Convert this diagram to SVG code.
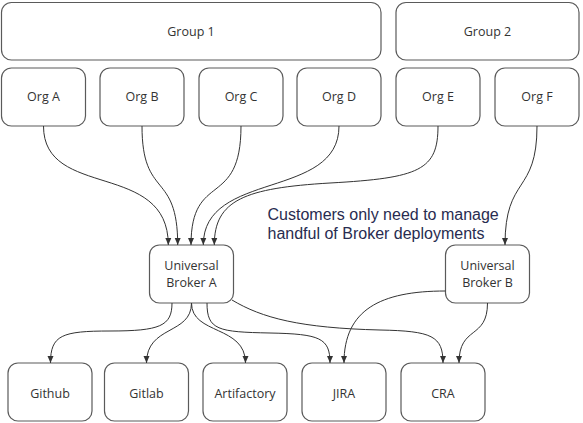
<svg xmlns="http://www.w3.org/2000/svg" width="583" height="423" viewBox="0 0 583 423">
<style>
.box{fill:#fff;stroke:#5a5a5a;stroke-width:1.2}
.lbl{font-family:"Open Sans","Noto Sans",sans-serif;font-size:12.5px;fill:#333;text-anchor:middle}
.note{font-family:"Liberation Sans",Arial,sans-serif;font-size:16px;fill:#282c50}
.con{fill:none;stroke:#333;stroke-width:1;marker-end:url(#ah)}
</style>
<defs>
<marker id="ah" viewBox="0 0 8 8" refX="8" refY="4" markerWidth="7" markerHeight="7" orient="auto" markerUnits="userSpaceOnUse">
<path d="M0,0.6 L8,4 L0,7.4 z" fill="#333"/>
</marker>
</defs>
<rect width="583" height="423" fill="#fff"/>
<g id="group1"><rect class="box" x="1.5" y="2.5" width="379.5" height="57.5" rx="10"/><text class="lbl" x="191" y="35.5">Group 1</text></g>
<g id="group2"><rect class="box" x="396" y="2.5" width="183" height="57.5" rx="10"/><text class="lbl" x="487.5" y="35.5">Group 2</text></g>
<g id="orgA"><rect class="box" x="1.5" y="68" width="84" height="58" rx="10"/><text class="lbl" x="43.5" y="101.3">Org A</text></g>
<g id="orgB"><rect class="box" x="100" y="68" width="84" height="58" rx="10"/><text class="lbl" x="142" y="101.3">Org B</text></g>
<g id="orgC"><rect class="box" x="199" y="68" width="84" height="58" rx="10"/><text class="lbl" x="241" y="101.3">Org C</text></g>
<g id="orgD"><rect class="box" x="297" y="68" width="84" height="58" rx="10"/><text class="lbl" x="339" y="101.3">Org D</text></g>
<g id="orgE"><rect class="box" x="396" y="68" width="84" height="58" rx="10"/><text class="lbl" x="438" y="101.3">Org E</text></g>
<g id="orgF"><rect class="box" x="495" y="68" width="84" height="58" rx="10"/><text class="lbl" x="537" y="101.3">Org F</text></g>
<g id="brokerA"><rect class="box" x="149.5" y="245" width="84" height="58" rx="10"/><text class="lbl" x="191.5" y="269.5">Universal</text><text class="lbl" x="191.5" y="287.2">Broker A</text></g>
<g id="brokerB"><rect class="box" x="445.5" y="245" width="84" height="58" rx="10"/><text class="lbl" x="487.5" y="269.5">Universal</text><text class="lbl" x="487.5" y="287.2">Broker B</text></g>
<g id="github"><rect class="box" x="8" y="363" width="84" height="58" rx="10"/><text class="lbl" x="50" y="397.7">Github</text></g>
<g id="gitlab"><rect class="box" x="104.5" y="363" width="84" height="58" rx="10"/><text class="lbl" x="146.5" y="397.7">Gitlab</text></g>
<g id="artifactory"><rect class="box" x="203" y="363" width="84" height="58" rx="10"/><text class="lbl" x="245" y="397.7">Artifactory</text></g>
<g id="jira"><rect class="box" x="302" y="363" width="84" height="58" rx="10"/><text class="lbl" x="344" y="397.7">JIRA</text></g>
<g id="cra"><rect class="box" x="401" y="363" width="84" height="58" rx="10"/><text class="lbl" x="443" y="397.7">CRA</text></g>
<g id="note"><text class="note" x="267.5" y="220">Customers only need to manage</text><text class="note" x="267.5" y="238.5">handful of Broker deployments</text></g>
<g id="connectors">
<path class="con" d="M43.5 126 C43.5 200 168.3 160 168.3 245"/>
<path class="con" d="M142 126 C142 200 177.7 170 177.7 245"/>
<path class="con" d="M241 126 C241 210 191 170 191 245"/>
<path class="con" d="M339 126 C339 200 203.3 170 203.3 245"/>
<path class="con" d="M438 126 C438 170 420 178 330 183 C245 188 214.3 200 214.3 245"/>
<path class="con" d="M537 126 C537 195 505 175 505 245"/>
<path class="con" d="M172 303 C172 326 160 331 110 331 C62 331 50.5 335 50.5 363"/>
<path class="con" d="M191.5 303 C191.5 335 146.5 325 146.5 363"/>
<path class="con" d="M191.5 303 C191.5 335 245.5 325 245.5 363"/>
<path class="con" d="M207 303 C207 330 218 332 270 333 C320 334 330 338 330 363"/>
<path class="con" d="M232 300 C262 318 300 328 380 330 C432 331 443 336 443 363"/>
<path class="con" d="M445.5 291 C380 291 344 310 344 363"/>
<path class="con" d="M487.5 303 C487.5 340 459 325 459 363"/>
</g>
</svg>
